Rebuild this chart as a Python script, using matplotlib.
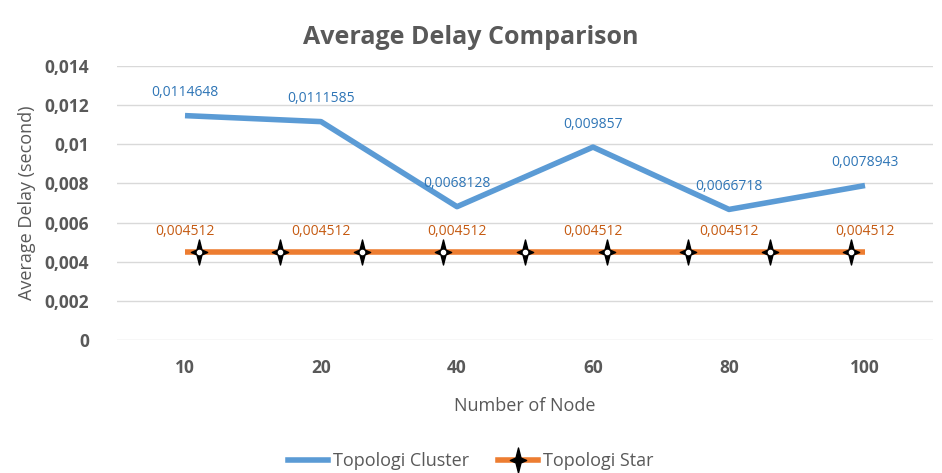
import numpy as np
import matplotlib.pyplot as plt
from matplotlib.path import Path
from matplotlib.lines import Line2D

plt.rcParams['font.family'] = ['Open Sans', 'DejaVu Sans']

# data
nodes = ['10', '20', '40', '60', '80', '100']
cluster = [0.0114648, 0.0111585, 0.0068128, 0.009857, 0.0066718, 0.0078943]
star = [0.004512, 0.004512, 0.004512, 0.004512, 0.004512, 0.004512]
yticks = [0, 0.002, 0.004, 0.006, 0.008, 0.01, 0.012, 0.014]
ytick_labels = ['0', '0,002', '0,004', '0,006', '0,008', '0,01', '0,012', '0,014']

blue = '#5B9BD5'
orange = '#ED7D31'
grey = '#595959'

# four pointed star marker
star_path = Path([(0, 1), (0.2, 0.2), (0.65, 0), (0.2, -0.2), (0, -1),
                  (-0.2, -0.2), (-0.65, 0), (-0.2, 0.2), (0, 1)],
                 [Path.MOVETO] + [Path.LINETO] * 7 + [Path.CLOSEPOLY])

fig = plt.figure(figsize=(9.42, 4.73), dpi=100)
ax = fig.add_axes([117 / 942, 1 - 340 / 473, 816 / 942, 274 / 473])

x = np.arange(len(nodes))
ax.plot(x, cluster, color=blue, lw=4, solid_capstyle='butt', zorder=3)
ax.plot(x, star, color=orange, lw=4, solid_capstyle='butt', zorder=3)

# star markers spread evenly along the orange line
xm = np.linspace(0.1, len(nodes) - 1.1, 9)
ym = np.interp(xm, x, star)
ax.plot(xm, ym, ls='none', marker=star_path, ms=18, color='black', zorder=4)
ax.plot(xm, ym, ls='none', marker='o', ms=3, color='white', zorder=5)

for xi, v in zip(x, cluster):
    ax.annotate(str(v).replace('.', ','), (xi, v), xytext=(0, 11), textcoords='offset points',
                ha='center', va='bottom', fontsize=10, color='#2E75B6')
for xi, v in zip(x, star):
    ax.annotate(str(v).replace('.', ','), (xi, v), xytext=(0, 9), textcoords='offset points',
                ha='center', va='bottom', fontsize=10, color='#C55A11')

ax.set_xlim(-0.5, len(nodes) - 0.5)
ax.set_ylim(0, 0.014)
ax.set_xticks(x, nodes)
ax.set_yticks(yticks, ytick_labels)
ax.tick_params(length=0, labelsize=12.5, colors=grey, pad=14)
ax.tick_params(axis='y', pad=20)
for lbl in ax.get_xticklabels() + ax.get_yticklabels():
    lbl.set_fontweight('bold')
ax.grid(axis='y', color='#D9D9D9', lw=1)
ax.set_axisbelow(True)
for s in ax.spines.values():
    s.set_visible(False)

ax.set_xlabel('Number of Node', fontsize=13, color=grey, labelpad=14)
ax.set_ylabel('Average Delay (second)', fontsize=13, color=grey, labelpad=6)
fig.text(0.5, 0.92, 'Average Delay Comparison', ha='center', va='center',
         fontsize=18, fontweight='bold', color=grey)

handles = [Line2D([], [], color=blue, lw=4),
           Line2D([], [], color=orange, lw=4, marker=star_path, ms=18,
                  markerfacecolor='black', markeredgecolor='black')]
fig.legend(handles, ['Topologi Cluster', 'Topologi Star'], loc='center',
           bbox_to_anchor=(0.5, 0.025), ncol=2, frameon=False, fontsize=13,
           labelcolor=grey, handlelength=2.2, handletextpad=0.3, columnspacing=1.6)

fig.savefig('out.png', dpi=100, facecolor='white')
